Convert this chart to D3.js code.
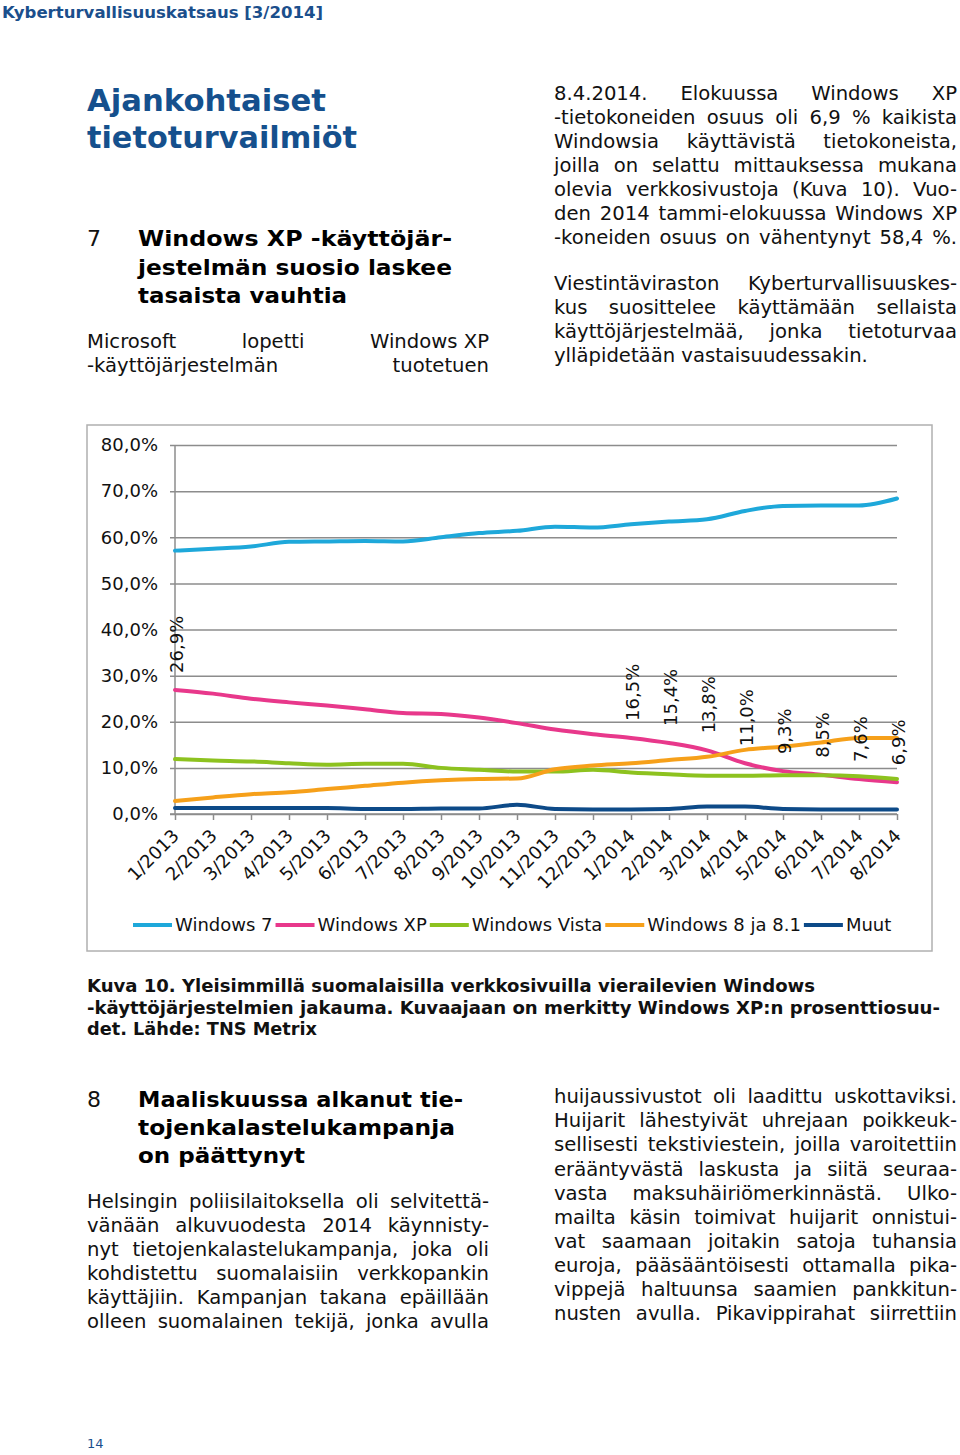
<!DOCTYPE html>
<html><head><meta charset="utf-8">
<script src="https://cdn.jsdelivr.net/npm/d3@7"></script>
<style>
html,body{margin:0;padding:0;background:#fff;}
svg{display:block;}
text{font-family:"DejaVu Sans",Verdana,sans-serif;fill:#111;}
.hdr{font-weight:bold;fill:#1b4f8c;}
.ttl{font-weight:bold;fill:#15508d;}
.hd{font-weight:bold;fill:#000;}
.num{fill:#111;}
.body{fill:#111;}
.cap{font-family:"DejaVu Sans Condensed","Liberation Sans Narrow","Liberation Sans",sans-serif;font-weight:bold;fill:#111;}
.pg{fill:#1b4f8c;}
.ch{font-size:18px;fill:#111;}
</style></head>
<body>
<script>
// ---------------- data ----------------
const months = ["1/2013","2/2013","3/2013","4/2013","5/2013","6/2013","7/2013","8/2013","9/2013","10/2013","11/2013","12/2013","1/2014","2/2014","3/2014","4/2014","5/2014","6/2014","7/2014","8/2014"];
const win7  = [57.1,57.5,58.0,59.0,59.1,59.2,59.1,60.0,60.9,61.4,62.3,62.1,62.8,63.4,63.9,65.7,66.8,66.9,66.9,68.4];
const winXP = [26.9,26.1,25.0,24.2,23.5,22.7,21.9,21.7,20.9,19.7,18.3,17.3,16.5,15.4,13.8,11.0,9.3,8.5,7.6,6.9];
const vista = [11.9,11.6,11.4,11.0,10.7,10.9,10.9,10.0,9.6,9.2,9.2,9.6,9.0,8.6,8.3,8.3,8.4,8.4,8.2,7.6];
const win8  = [2.8,3.6,4.3,4.7,5.4,6.1,6.8,7.3,7.6,7.7,9.7,10.5,11.0,11.7,12.4,13.9,14.6,15.5,16.5,16.5];
const muut  = [1.3,1.3,1.3,1.3,1.3,1.1,1.1,1.2,1.2,2.0,1.1,1.0,1.0,1.1,1.6,1.6,1.1,1.0,1.0,1.0];
const seriesNames = ["Windows 7","Windows XP","Windows Vista","Windows 8 ja 8.1","Muut"];
const seriesColors = ["#1ea8da","#e8388b","#8dc21f","#f6a01a","#0d4a88"];
const yTicks = [0,10,20,30,40,50,60,70,80];
const xpLabelIdx = [0,12,13,14,15,16,17,18,19];

// ---------------- text content ----------------
const headerText = "Kyberturvallisuuskatsaus [3/2014]";
const titleLines = ["Ajankohtaiset","tietoturvailmiöt"];
const head7 = ["Windows XP -käyttöjär-","jestelmän suosio laskee","tasaista vauhtia"];
const left7 = ["Microsoft lopetti Windows\u00a0XP","-käyttöjärjestelmän tuotetuen"];
const right7a = ["8.4.2014. Elokuussa Windows XP","-tietokoneiden osuus oli 6,9 % kaikista","Windowsia käyttävistä tietokoneista,","joilla on selattu mittauksessa mukana","olevia verkkosivustoja (Kuva 10). Vuo-","den 2014 tammi-elokuussa Windows XP","-koneiden osuus on vähentynyt 58,4 %."];
const right7b = ["Viestintäviraston Kyberturvallisuuskes-","kus suosittelee käyttämään sellaista","käyttöjärjestelmää, jonka tietoturvaa","ylläpidetään vastaisuudessakin."];
const captionLines = ["Kuva 10. Yleisimmillä suomalaisilla verkkosivuilla vierailevien Windows","-käyttöjärjestelmien jakauma. Kuvaajaan on merkitty Windows XP:n prosenttiosuu-","det. Lähde: TNS Metrix"];
const head8 = ["Maaliskuussa alkanut tie-","tojenkalastelukampanja","on päättynyt"];
const left8 = ["Helsingin poliisilaitoksella oli selvitettä-","vänään alkuvuodesta 2014 käynnisty-","nyt tietojenkalastelukampanja, joka oli","kohdistettu suomalaisiin verkkopankin","käyttäjiin. Kampanjan takana epäillään","olleen suomalainen tekijä, jonka avulla"];
const right8 = ["huijaussivustot oli laadittu uskottaviksi.","Huijarit lähestyivät uhrejaan poikkeuk-","sellisesti tekstiviestein, joilla varoitettiin","erääntyvästä laskusta ja siitä seuraa-","vasta maksuhäiriömerkinnästä. Ulko-","mailta käsin toimivat huijarit onnistui-","vat saamaan joitakin satoja tuhansia","euroja, pääsääntöisesti ottamalla pika-","vippejä haltuunsa saamien pankkitun-","nusten avulla. Pikavippirahat siirrettiin"];

const W = 960, H = 1455;
const svg = d3.select("body").append("svg").attr("width", W).attr("height", H);

function fitSize(cls, str, target, base) {
  const t = svg.append("text").attr("class", cls).style("font-size", base + "px").text(str);
  const w = t.node().getComputedTextLength();
  t.remove();
  return base * target / w;
}
// justify: place words across a width; squeeze: fit glyphs to a width
function line(x, y, str, cls, size, justify, squeeze) {
  const t = svg.append("text").attr("class", cls).attr("x", x).attr("y", y)
    .style("font-size", size + "px");
  const words = str.split(" ");
  if (justify && words.length > 1) {
    const spans = words.map(w => t.append("tspan").attr("y", y).text(w));
    const widths = spans.map(s => s.node().getComputedTextLength());
    const gap = (justify - d3.sum(widths)) / (words.length - 1);
    let cx = x;
    spans.forEach((s, i) => { s.attr("x", cx); cx += widths[i] + gap; });
  } else {
    t.text(str);
  }
  if (squeeze) t.attr("textLength", squeeze).attr("lengthAdjust", "spacingAndGlyphs");
  return t;
}

const fsBody = fitSize("body", right7b[3], 314, 19);

line(2, 18, headerText, "hdr", 16, 0, 321);
const titleW = [239, 270];
titleLines.forEach((s, i) => line(87, 111 + i * 37, s, "ttl", 31, 0, titleW[i]));
line(87, 246, "7", "num", 22);
const head7W = [314, 314, 209];
head7.forEach((s, i) => line(138, 246 + i * 28.5, s, "hd", 22, 0, head7W[i]));
left7.forEach((s, i) => line(87, 348 + i * 24, s, "body", fsBody, 402));
right7a.forEach((s, i) => line(554, 100 + i * 24, s, "body", fsBody, 403));
right7b.forEach((s, i) => line(554, 290 + i * 24, s, "body", fsBody, i < 3 ? 403 : 0));
const capW = [728, 853, 230];
captionLines.forEach((s, i) => line(87, 992 + i * 21.5, s, "cap", 17, 0, capW[i]));
line(87, 1106.5, "8", "num", 22);
const head8W = [325, 317, 167];
head8.forEach((s, i) => line(138, 1106.5 + i * 28.3, s, "hd", 22, 0, head8W[i]));
left8.forEach((s, i) => line(87, 1208.3 + i * 24, s, "body", fsBody, 402));
right8.forEach((s, i) => line(554, 1103.3 + i * 24.07, s, "body", fsBody, 403));
line(87, 1448, "14", "pg", 13);

// ---------------- chart ----------------
svg.append("rect").attr("x", 87).attr("y", 425).attr("width", 845).attr("height", 526)
  .attr("fill", "#fff").attr("stroke", "#b0b0b0").attr("stroke-width", 1.5);

const x = d3.scalePoint().domain(months).range([175, 897]);
const y = d3.scaleLinear().domain([0, 80]).range([814, 445]);

const yAxis = d3.axisLeft(y).tickValues(yTicks).tickSize(-(897 - 170)).tickPadding(12)
  .tickFormat(d => d.toFixed(1).replace(".", ",") + "%");
const gy = svg.append("g").attr("transform", "translate(170,0)").call(yAxis);
gy.select(".domain").remove();
gy.selectAll(".tick line").attr("stroke", "#8c8c8c").attr("stroke-width", 1.5);
gy.selectAll(".tick text").attr("class", "ch").attr("x", -12)
  .style("font-family", '"DejaVu Sans",sans-serif').style("font-size", "18px").attr("fill", "#111");

svg.append("line").attr("x1", 175).attr("x2", 175).attr("y1", 445).attr("y2", 814)
  .attr("stroke", "#8c8c8c").attr("stroke-width", 1.5);

const xAxis = d3.axisBottom(x).tickSize(6).tickFormat("");
const gx = svg.append("g").attr("transform", "translate(0,814)").call(xAxis);
gx.select(".domain").attr("stroke", "#8c8c8c").attr("stroke-width", 1.5).attr("d", "M170,0H897");
gx.selectAll(".tick line").attr("stroke", "#8c8c8c").attr("stroke-width", 1.5);

svg.append("g").selectAll("text").data(months).join("text")
  .attr("class", "ch").attr("text-anchor", "end")
  .attr("transform", d => `translate(${x(d) + 5},837) rotate(-45)`)
  .text(d => d);

const allSeries = [win7, winXP, vista, win8, muut];
const lineGen = d3.line().x((d, i) => x(months[i])).y(d => y(d)).curve(d3.curveMonotoneX);
svg.append("g").selectAll("path").data(allSeries).join("path")
  .attr("d", d => lineGen(d)).attr("fill", "none")
  .attr("stroke", (d, i) => seriesColors[i]).attr("stroke-width", 4)
  .attr("stroke-linejoin", "round").attr("stroke-linecap", "round");

svg.append("g").selectAll("text").data(xpLabelIdx).join("text")
  .attr("class", "ch")
  .attr("transform", i => `translate(${x(months[i]) + 8},${y(winXP[i]) - 17}) rotate(-90)`)
  .text(i => winXP[i].toFixed(1).replace(".", ",") + "%");

const lg = svg.append("g");
let lx = 133;
seriesNames.forEach((name, i) => {
  lg.append("line").attr("x1", lx).attr("x2", lx + 39).attr("y1", 925).attr("y2", 925)
    .attr("stroke", seriesColors[i]).attr("stroke-width", 4);
  const t = lg.append("text").attr("class", "ch").attr("x", lx + 42).attr("y", 931).text(name);
  lx += 42 + t.node().getComputedTextLength() + 3;
});
</script>
</body></html>
